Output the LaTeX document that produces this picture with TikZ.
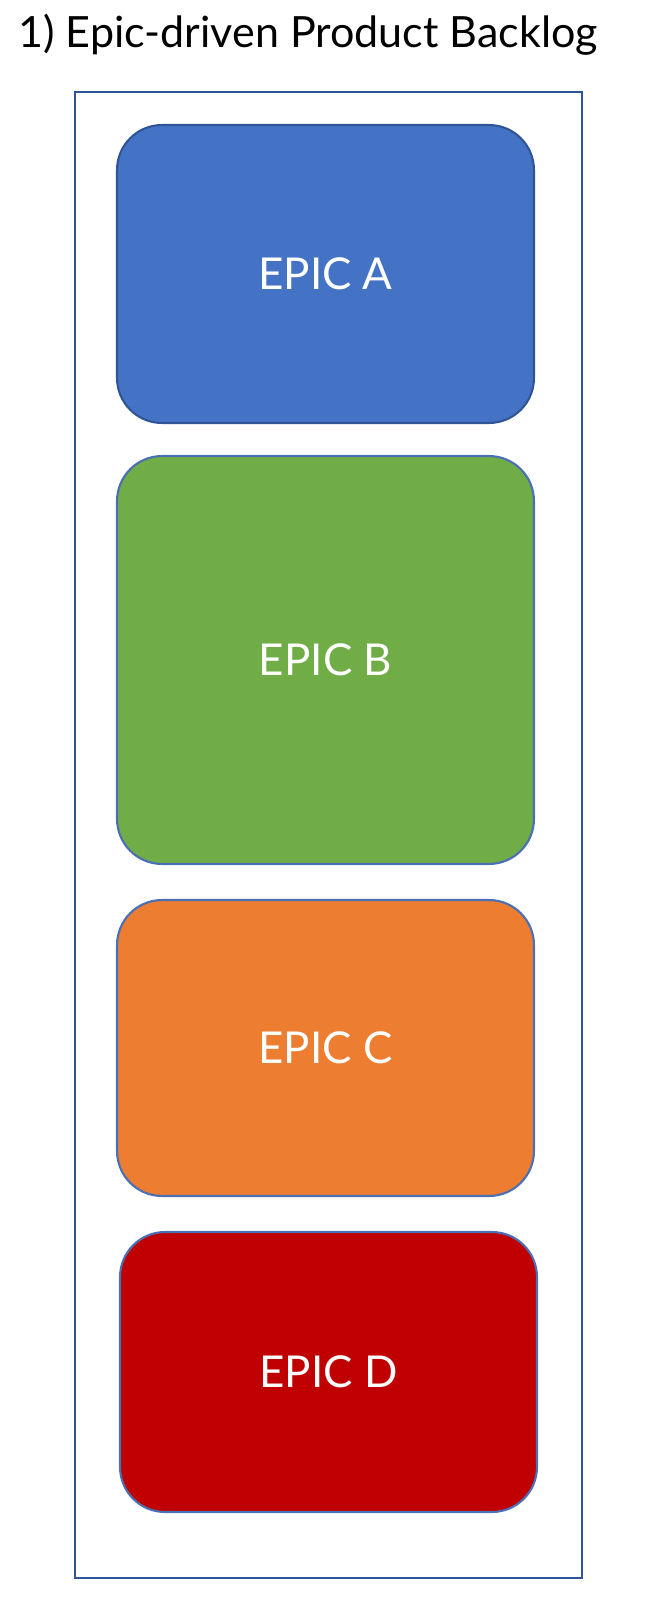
\documentclass[tikz,border=0pt]{standalone}
\usepackage{fontspec}
\setmainfont{Lato}
\usetikzlibrary{positioning}
\definecolor{frameblue}{HTML}{2F5597}
\definecolor{epicblue}{HTML}{4472C4}
\definecolor{epicgreen}{HTML}{70AD47}
\definecolor{epicorange}{HTML}{ED7D31}
\definecolor{epicred}{HTML}{C00000}
\definecolor{edgeblue}{HTML}{4A6FB5}
\begin{document}
\begin{tikzpicture}[x=0.02cm, y=-0.02cm,
    epic/.style={rectangle, draw=edgeblue, line width=1.2pt, rounded corners=0.9cm, text=white, font=\fontsize{25}{29}\selectfont, minimum width=8.34cm}]
    \useasboundingbox (0,0) rectangle (656,1601);
    \node[anchor=west, font=\fontsize{24.5}{28}\selectfont] (title) at (12,35) {1) Epic-driven Product Backlog};
    \draw[frameblue, line width=1pt] (75,92) rectangle (582,1578);
    \node[epic, fill=epicblue, draw=frameblue, minimum height=5.96cm] (epicA) at (325.5,274) {EPIC A};
    \node[epic, fill=epicgreen, minimum height=8.16cm] (epicB) at (325.5,660) {EPIC B};
    \node[epic, fill=epicorange, minimum height=5.92cm] (epicC) at (325.5,1048) {EPIC C};
    \node[epic, fill=epicred, minimum height=5.6cm] (epicD) at (328.5,1372) {EPIC D};
\end{tikzpicture}
\end{document}
